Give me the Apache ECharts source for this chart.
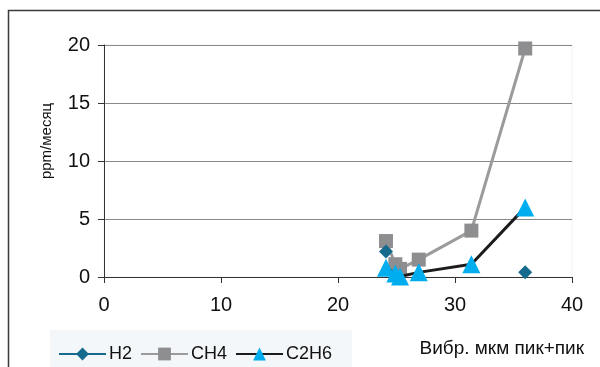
<!DOCTYPE html>
<html>
<head>
<meta charset="utf-8">
<script src="https://cdn.jsdelivr.net/npm/echarts@6/dist/echarts.min.js"></script>
<style>
  html, body { margin: 0; padding: 0; background: #fff; }
  #chart { width: 600px; height: 367px; }
</style>
</head>
<body>
<div id="chart"></div>
<script>
// Vibration (µm peak-to-peak) vs gas growth rate (ppm/month)
const vibration = [24.1, 24.9, 25.3, 26.9, 31.4, 36.0];
const h2   = [2.2, null, null, null, null, 0.4];
const ch4  = [3.1, 1.1, 0.7, 1.5, 4.0, 19.7];
const c2h6 = [0.8, 0.3, 0.05, 0.4, 1.1, 6.0];

const xTicks = { min: 0, max: 40, interval: 10 };
const yTicks = { min: 0, max: 20, interval: 5 };

const pairs = ys => vibration.map((x, i) => [x, ys[i]]);

const chart = echarts.init(document.getElementById('chart'), null, { renderer: 'canvas' });
const font = '"Liberation Sans", Arial, sans-serif';

chart.setOption({
  animation: false,
  backgroundColor: '#ffffff',
  grid: { left: 104, right: 28, top: 45, bottom: 90, show: true, borderColor: '#eef2f4', borderWidth: 1 },
  graphic: [
    { type: 'polyline', shape: { points: [[8.5, 400], [8.5, 10.5], [620, 10.5]] },
      style: { stroke: '#3a3a3a', lineWidth: 1.5, fill: null }, z: 0 },
    { type: 'rect', shape: { x: 50, y: 330, width: 302, height: 40 },
      style: { fill: '#f3f7f9' }, z: 0 }
  ],
  xAxis: {
    type: 'value', min: xTicks.min, max: xTicks.max, interval: xTicks.interval,
    name: 'Вибр. мкм пик+пик', nameLocation: 'end',
    nameGap: 12,
    nameTextStyle: { fontFamily: font, fontSize: 19, color: '#111', align: 'right', verticalAlign: 'top', padding: [62, 0, 0, 0] },
    axisLine: { show: true, lineStyle: { color: '#333', width: 1 } },
    axisTick: { show: true, inside: false, length: 6, lineStyle: { color: '#333' } },
    axisLabel: { fontFamily: font, fontSize: 20, color: '#111', margin: 18 },
    splitLine: { show: false }
  },
  yAxis: {
    type: 'value', min: yTicks.min, max: yTicks.max, interval: yTicks.interval,
    name: 'ppm/месяц', nameLocation: 'middle', nameGap: 50, nameRotate: 90,
    nameTextStyle: { fontFamily: font, fontSize: 15, color: '#111', padding: [0, 0, 0, 40] },
    axisLine: { show: true, lineStyle: { color: '#333', width: 1 } },
    axisTick: { show: true, inside: false, length: 6, lineStyle: { color: '#333' } },
    axisLabel: { fontFamily: font, fontSize: 20, color: '#111', margin: 14 },
    splitLine: { show: true, lineStyle: { color: '#888', width: 1 } }
  },
  legend: {
    left: 53, top: 340, itemWidth: 47, itemHeight: 16, itemGap: 8,
    textStyle: { fontFamily: font, fontSize: 18, color: '#111', padding: [0, 0, 0, -2] },
    data: ['H2', 'CH4', 'C2H6']
  },
  series: [
    {
      name: 'H2', type: 'line', data: pairs(h2), connectNulls: false,
      symbol: 'diamond', symbolSize: 14,
      lineStyle: { color: '#156a8e', width: 2 },
      itemStyle: { color: '#156a8e' }, z: 3
    },
    {
      name: 'CH4', type: 'line', data: pairs(ch4),
      symbol: 'rect', symbolSize: 14,
      lineStyle: { color: '#9b9b9b', width: 3 },
      itemStyle: { color: '#8e8e90' }, z: 2
    },
    {
      name: 'C2H6', type: 'line', data: pairs(c2h6),
      symbol: 'triangle', symbolSize: 18,
      lineStyle: { color: '#1c1c1c', width: 3 },
      itemStyle: { color: '#00aeef' }, z: 4
    }
  ]
});
</script>
</body>
</html>
